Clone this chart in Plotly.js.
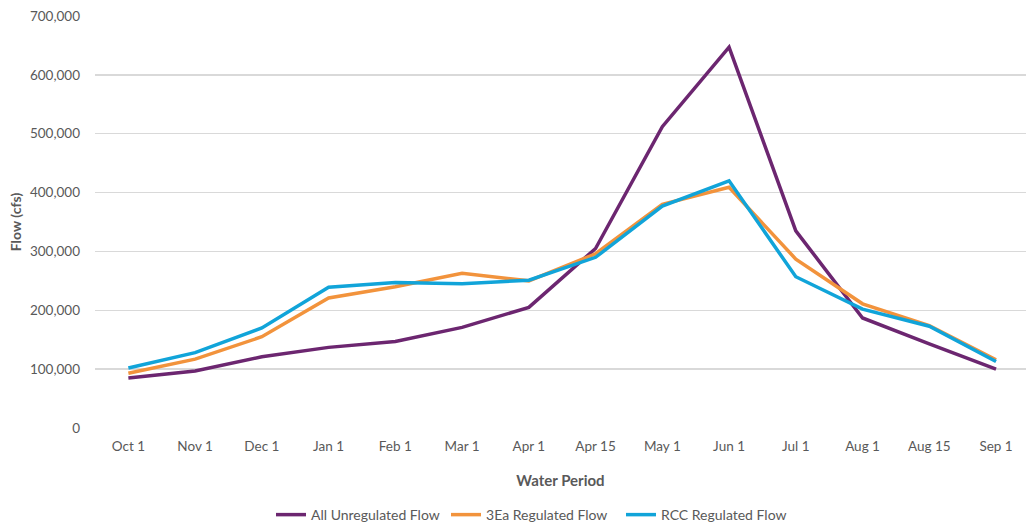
<!DOCTYPE html>
<html><head><meta charset="utf-8">
<script src="https://cdn.plot.ly/plotly-3.0.1.min.js"></script>
<style>html,body{margin:0;padding:0;background:#fff}#chart{width:1026px;height:525px}</style>
</head><body><div id="chart"></div>
<script>
const periods = ["Oct 1","Nov 1","Dec 1","Jan 1","Feb 1","Mar 1","Apr 1","Apr 15","May 1","Jun 1","Jul 1","Aug 1","Aug 15","Sep 1"];
const unregulated = [85000, 97000, 121000, 137000, 147000, 171000, 205000, 305000, 512000, 647000, 335000, 187000, 143000, 100000];
const regulated3Ea = [93000, 117000, 155000, 221000, 240000, 263000, 250000, 296000, 380000, 409000, 287000, 211000, 174000, 116000];
const regulatedRCC = [102000, 128000, 170000, 239000, 247000, 245000, 251000, 290000, 377000, 420000, 257000, 202000, 173000, 113000];

const font = "Lato, 'Open Sans', 'Liberation Sans', sans-serif";
const mk = (name, y, color) => ({type:'scatter', mode:'lines', name, x:periods, y,
  line:{color, width:3.5}, hoverinfo:'skip'});
const data = [
  mk('All Unregulated Flow', unregulated, '#6C2670'),
  mk('3Ea Regulated Flow', regulated3Ea, '#F2933C'),
  mk('RCC Regulated Flow', regulatedRCC, '#11A4D9')
];
const layout = {
  width:1026, height:525,
  margin:{l:95, r:0, t:16, b:97},
  paper_bgcolor:'#fff', plot_bgcolor:'#fff',
  font:{family:font, color:'#595959', size:13},
  showlegend:true,
  legend:{orientation:'h', xref:'container', yref:'container', x:0.52, xanchor:'center', y:0.019, yanchor:'middle',
    font:{size:14, color:'#595959'}, itemwidth:30, entrywidth:130, entrywidthmode:'pixels',
    tracegroupgap:0, traceorder:'normal'},
  xaxis:{type:'category', range:[-0.5, 13.449], showgrid:false, zeroline:false,
    showline:false, ticks:'', ticklabelstandoff:8, tickfont:{size:13.5, color:'#595959'},
    title:{text:'<b>Water Period</b>', font:{size:15, color:'#595959'}, standoff:22}},
  yaxis:{range:[0,700000], dtick:100000, tickformat:',d', gridcolor:'#D9D9D9', gridwidth:1.3,
    zeroline:false, showline:false, ticks:'', ticklabelstandoff:14, tickfont:{size:13.5, color:'#595959'},
    title:{text:'<b>Flow (cfs)</b>', font:{size:14, color:'#595959'}, standoff:5}}
};
Plotly.newPlot('chart', data, layout, {staticPlot:true, displayModeBar:false});
</script></body></html>
